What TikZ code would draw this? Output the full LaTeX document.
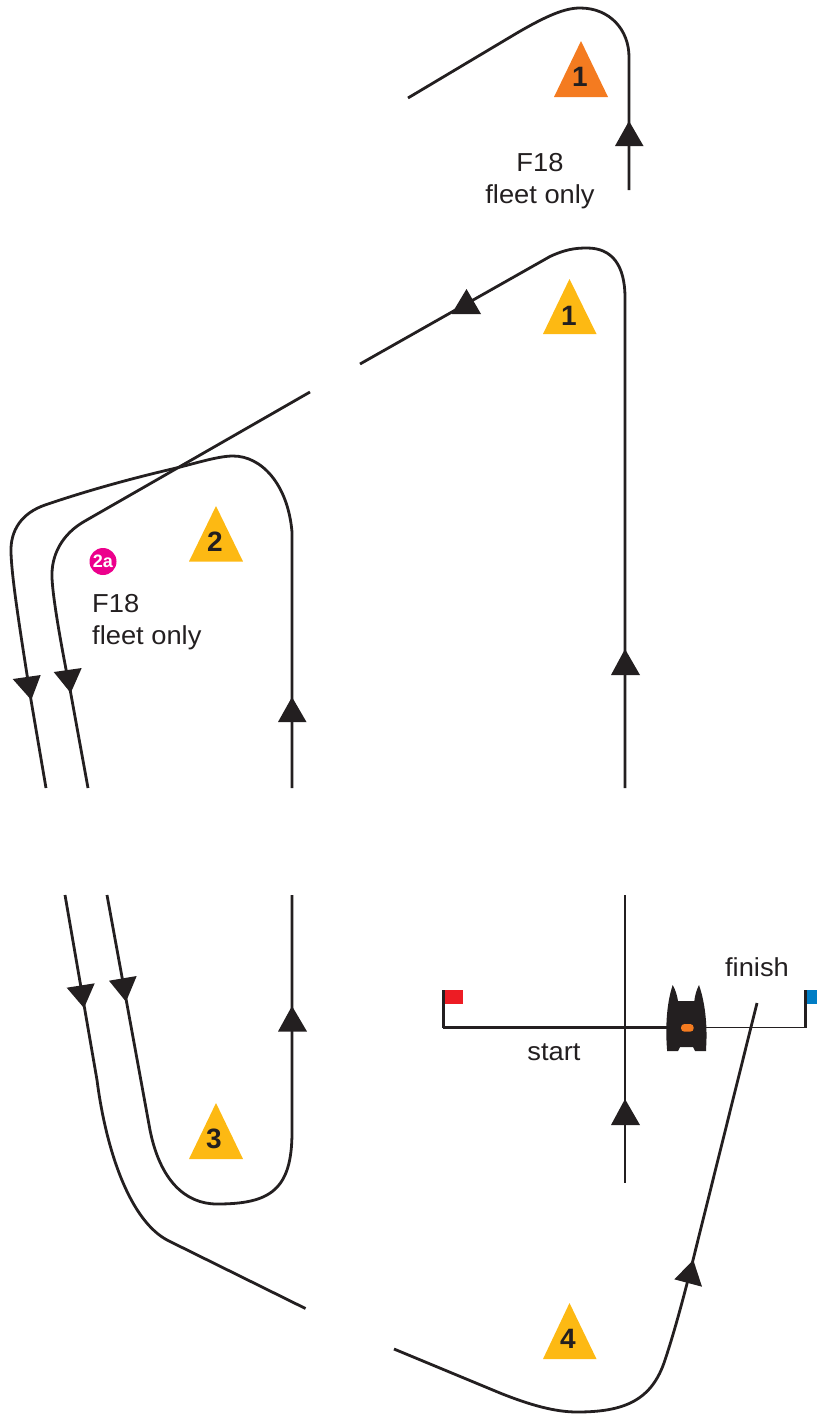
\documentclass[tikz,border=0pt]{standalone}
\usepackage{fontspec}
\setmainfont{Liberation Sans}
\newfontfamily\lblfont[FakeStretch=1.05]{Liberation Sans}
\definecolor{ink}{HTML}{231F20}
\definecolor{markyellow}{HTML}{FDB913}
\definecolor{markorange}{HTML}{F47B20}
\definecolor{flagred}{HTML}{ED1C24}
\definecolor{flagblue}{HTML}{007DC5}
\definecolor{badgepink}{HTML}{EC008C}
\tikzset{
  course/.style={draw=ink,line width=2.8pt,line join=round},
  head/.style={fill=ink},
  pole/.style={draw=ink,line width=3pt},
  linestart/.style={draw=ink,line width=2.4pt},
  linefinish/.style={draw=ink,line width=1.6pt},
  markfill/.style={fill=#1},
  marknum/.style={inner sep=0pt,anchor=base,text=ink,font=\fontsize{28}{28}\selectfont\bfseries},
  lbl/.style={inner sep=0pt,text=ink,font=\lblfont\fontsize{26}{32}\selectfont},
  badge/.style={circle,fill=badgepink,minimum size=27pt,inner sep=0pt,text=white,font=\fontsize{18}{18}\selectfont\bfseries},
}
\begin{document}
\begin{tikzpicture}[x=1pt,y=-1pt]
\useasboundingbox (0,0) rectangle (817,1416);
% course marks
\fill[markfill=markorange] (581,41) -- (608,97) -- (554,97) -- cycle;
\fill[markfill=markyellow] (569.5,279) -- (596.5,334) -- (543,334) -- cycle;
\fill[markfill=markyellow] (216,506) -- (243,561.5) -- (189,561.5) -- cycle;
\fill[markfill=markyellow] (216,1103) -- (243,1159) -- (189,1159) -- cycle;
\fill[markfill=markyellow] (569.5,1303) -- (596.5,1359) -- (543,1359) -- cycle;
\node[marknum] (n1a) at (580,86) {1};
\node[marknum] (n1) at (569,325) {1};
\node[marknum] (n2) at (215,551) {2};
\node[marknum] (n3) at (214,1148) {3};
\node[marknum] (n4) at (568,1348) {4};
% free ends of the course lines
\coordinate (a1) at (408,98);  \coordinate (a2) at (629,190);
\coordinate (b1) at (360,364); \coordinate (b2) at (625,788);
\coordinate (c1) at (310,392); \coordinate (c2) at (88,788);
\coordinate (d1) at (292,788); \coordinate (d2) at (46,788);
\coordinate (e1) at (65,895);  \coordinate (e2) at (305.5,1308.5);
\coordinate (f1) at (107,895); \coordinate (f2) at (292,895);
\coordinate (g1) at (625,895); \coordinate (g2) at (625,1183);
\coordinate (h1) at (394,1349); \coordinate (h2) at (757,1003);
% course lines
\draw[course] (a1) -- (517,33) .. controls (547,15.5) and (565,8) .. (580,8) .. controls (610,8) and (629,30) .. (629,57) -- (a2);
\draw[course] (b1) -- (550,256.5) .. controls (565,249.5) and (575,248) .. (587,248) .. controls (612,248) and (625,265) .. (625,298) -- (b2);
\draw[course] (c1) -- (85,521) .. controls (62,534) and (51,555) .. (52,578) .. controls (53,600) and (62,650) .. (70.7,693) -- (c2);
\draw[course] (d1) -- (292,532) .. controls (288,485) and (262,456) .. (233,456) .. controls (218,456) and (195,463.5) .. (175,468.3) .. controls (140,476.5) and (95,488) .. (45,505) .. controls (22,513) and (10,530) .. (11,553) .. controls (12,580) and (20,630) .. (31,700) -- (d2);
\draw[course] (e1) -- (97,1080) .. controls (106,1150) and (130,1222) .. (169,1241) -- (e2);
\draw[course] (f1) -- (150,1130) .. controls (160,1180) and (185,1204) .. (217,1204) .. controls (270,1204) and (292,1190) .. (292,1132) -- (f2);
\draw[course] (g1) -- (g2);
\draw[course] (h1) -- (500,1393) .. controls (530,1405) and (555,1412) .. (577,1412) .. controls (625,1412) and (652,1400) .. (665,1360) .. controls (675,1330) and (685,1292) .. (693,1260) -- (h2);
% arrowheads
\fill[head] (629,121) -- (643.5,146) -- (615,146) -- cycle;
\fill[head] (466.5,289) -- (481,314) -- (451.5,314) -- cycle;
\fill[head] (625,649) -- (640,675) -- (611,675) -- cycle;
\fill[head] (292,697) -- (306.5,722) -- (278,722) -- cycle;
\fill[head] (292,1006) -- (307,1031.5) -- (278,1031.5) -- cycle;
\fill[head] (625,1099) -- (640,1125) -- (611,1125) -- cycle;
\fill[head] (12.7,679) -- (40.7,675) -- (31.3,700) -- cycle;
\fill[head] (53.7,672) -- (81.7,668) -- (70.7,693) -- cycle;
\fill[head] (66.7,987.7) -- (94.7,983.3) -- (84,1008) -- cycle;
\fill[head] (109,980.7) -- (136.7,976) -- (126,1001.7) -- cycle;
\fill[head] (693.3,1260) -- (702,1286.7) -- (674.3,1279.3) -- cycle;
% start / finish line
\coordinate (pl) at (443,990); \coordinate (pr) at (805,990);
\coordinate (bl) at (443,1027.5); \coordinate (br) at (805,1027.5);
\coordinate (bw) at (667,1027.5); \coordinate (be) at (706,1027.5);
\draw[pole] (pl) -- (bl);
\draw[pole] (pr) -- (br);
\draw[linestart] (bl) -- (bw);
\draw[linefinish] (be) -- (br);
\fill[flagred] (445,990) rectangle (463,1004);
\fill[flagblue] (807,990) rectangle (817,1004);
% committee boat
\fill[ink] (667,1049) .. controls (665.5,1030) and (666,1005) .. (672.7,985)
  .. controls (675.5,990) and (677,995) .. (678,1001) -- (694.3,1001)
  .. controls (695,995) and (696.5,990) .. (699,985)
  .. controls (706,1005) and (707.5,1030) .. (706,1049)
  -- (706,1051) -- (695,1051) -- (693,1047) -- (680,1047) -- (678,1051) -- (667,1051) -- cycle;
\fill[markorange,rounded corners=3.5pt] (681,1024) rectangle (693.7,1031.7);
% labels
\node[lbl,align=center] (t1) at (540,181.5) {F18\\fleet only};
\node[lbl,align=left,anchor=west] (t2) at (92,622.5) {F18\\fleet only};
\node[lbl,anchor=base] (t3) at (554,1060) {start};
\node[lbl,anchor=base] (t4) at (757,976) {finish};
\node[badge] (b2a) at (103,561.5) {2a};
\end{tikzpicture}
\end{document}
